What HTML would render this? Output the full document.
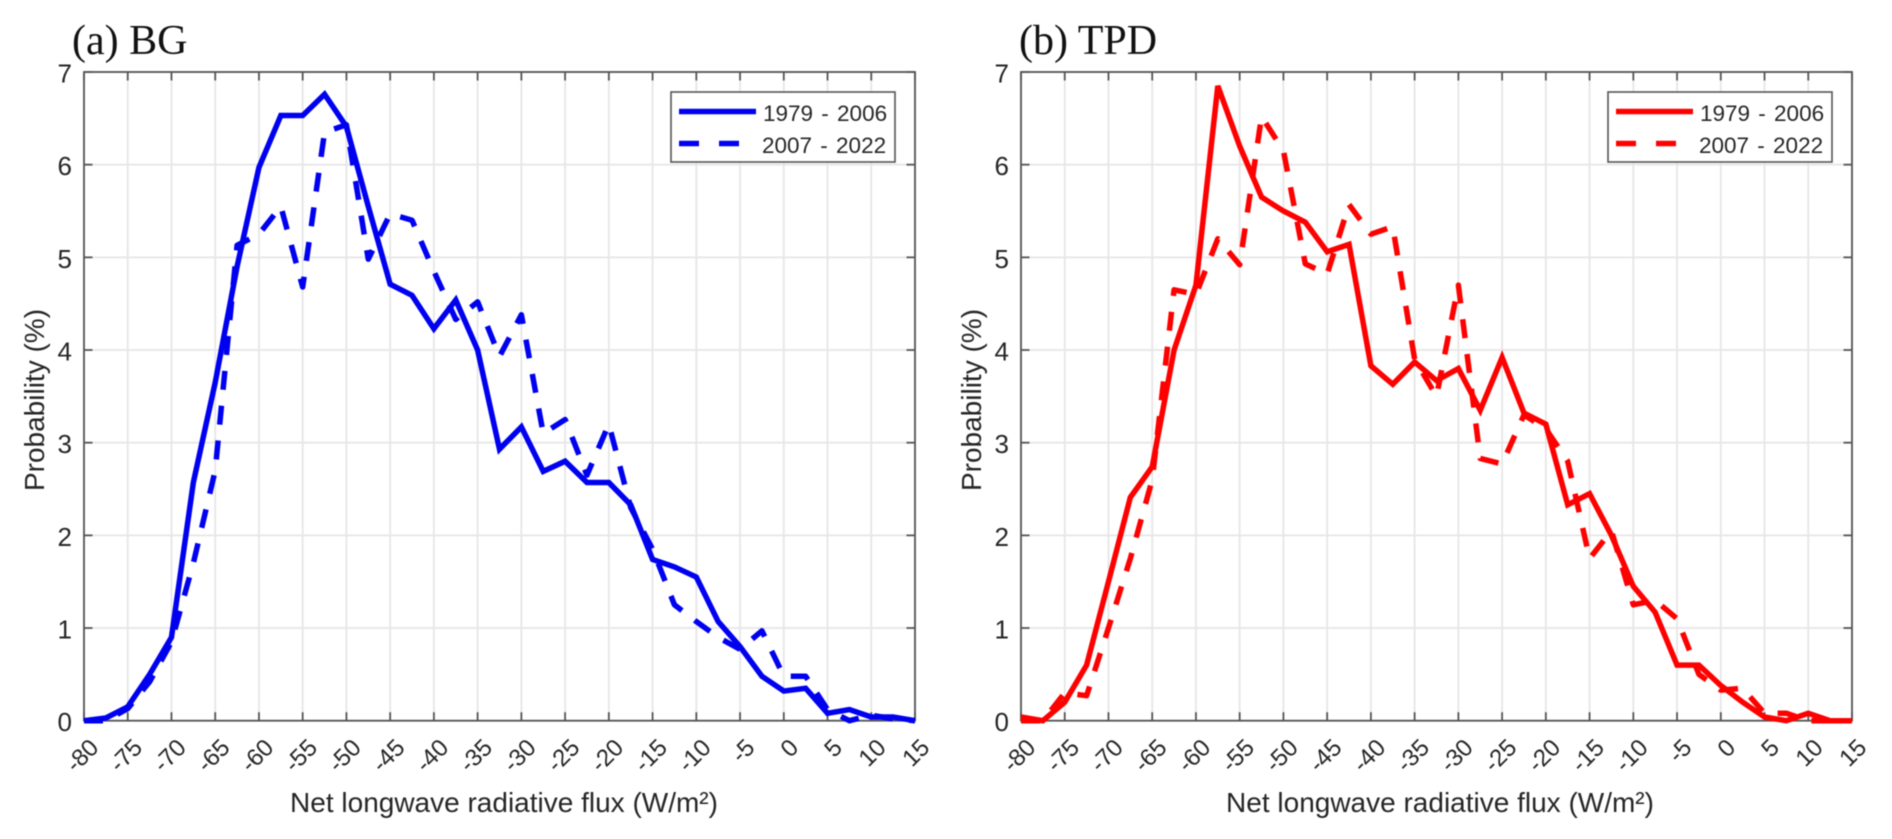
<!DOCTYPE html>
<html lang="en">
<head>
<meta charset="utf-8">
<title>Net longwave radiative flux probability</title>
<style>
html,body{margin:0;padding:0;background:#fff;width:1892px;height:839px;overflow:hidden}
svg{display:block;filter:blur(0.55px)}
text{font-family:"Liberation Sans",sans-serif;fill:#262626}
.title{font-family:"Liberation Serif",serif;font-size:42px;fill:#111}
.ylab,.xlab{font-size:28px}
</style>
</head>
<body>
<svg id="chart" width="1892" height="839" viewBox="0 0 1892 839" xmlns="http://www.w3.org/2000/svg">
  <g id="panel-a">
    <text class="title" x="72" y="54">(a) BG</text>
    <text class="ylab" transform="translate(44,400) rotate(-90)" text-anchor="middle">Probability (%)</text>
    <text class="xlab" x="504" y="812" text-anchor="middle">Net longwave radiative flux (W/m²)</text>
  </g>
  <g id="panel-b">
    <text class="title" x="1019" y="54">(b) TPD</text>
    <text class="ylab" transform="translate(981,400) rotate(-90)" text-anchor="middle">Probability (%)</text>
    <text class="xlab" x="1440" y="812" text-anchor="middle">Net longwave radiative flux (W/m²)</text>
  </g>
</svg>
<script>
// Chart data
const binCenters = [-80,-77.5,-75,-72.5,-70,-67.5,-65,-62.5,-60,-57.5,-55,-52.5,-50,-47.5,-45,-42.5,-40,-37.5,-35,-32.5,-30,-27.5,-25,-22.5,-20,-17.5,-15,-12.5,-10,-7.5,-5,-2.5,0,2.5,5,7.5,10,12.5,15];
const xTicks = [-80,-75,-70,-65,-60,-55,-50,-45,-40,-35,-30,-25,-20,-15,-10,-5,0,5,10,15];
const yTicks = [0,1,2,3,4,5,6,7];
const seriesLabels = ['1979 - 2006','2007 - 2022'];
const bgEarly = [0,0.03,0.15,0.5,0.9,2.57,3.65,4.9,5.97,6.53,6.53,6.76,6.41,5.55,4.71,4.59,4.23,4.54,4.0,2.93,3.17,2.69,2.8,2.57,2.57,2.33,1.74,1.66,1.55,1.07,0.8,0.48,0.32,0.35,0.08,0.12,0.04,0.04,0];
const bgLate = [0,0,0.13,0.42,0.85,1.7,2.7,5.13,5.25,5.55,4.68,6.35,6.43,4.98,5.47,5.4,4.85,4.33,4.52,3.93,4.38,3.1,3.25,2.65,3.2,2.3,1.85,1.25,1.07,0.9,0.77,0.97,0.48,0.48,0.12,0,0.06,0.02,0];
const tpdEarly = [0.04,0,0.2,0.6,1.5,2.41,2.74,4.0,4.7,6.85,6.2,5.65,5.5,5.38,5.06,5.14,3.83,3.63,3.87,3.67,3.8,3.35,3.92,3.32,3.2,2.33,2.45,2.0,1.45,1.17,0.6,0.6,0.38,0.2,0.04,0,0.08,0,0];
const tpdLate = [0,0,0.3,0.27,1.0,1.75,2.6,4.65,4.6,5.2,4.92,6.52,6.15,4.93,4.82,5.57,5.25,5.33,3.9,3.5,4.7,2.83,2.77,3.3,3.15,2.8,1.75,2.05,1.25,1.3,1.1,0.5,0.33,0.35,0.08,0.08,0,0,0];

const NS = 'http://www.w3.org/2000/svg';
const plotTop = 72, plotBottom = 720.7, plotWidth = 831;
const xMin = -80, xMax = 15, yMin = 0, yMax = 7;

function mk(tag, attrs, parent) {
  const el = document.createElementNS(NS, tag);
  for (const k in attrs) el.setAttribute(k, attrs[k]);
  parent.appendChild(el);
  return el;
}

function linePath(xs, ys, xScale, yScale) {
  return xs.map((v, i) => (i ? 'L' : 'M') + xScale(v).toFixed(2) + ' ' + yScale(ys[i]).toFixed(2)).join(' ');
}

function drawPanel(group, plotLeft, color, earlyValues, lateValues) {
  const xScale = v => plotLeft + (v - xMin) / (xMax - xMin) * plotWidth;
  const yScale = v => plotBottom - (v - yMin) / (yMax - yMin) * (plotBottom - plotTop);
  const plotRight = plotLeft + plotWidth;

  xTicks.forEach(t => {
    const x = xScale(t);
    const grid = mk('line', {x1:x, x2:x, y1:plotTop, y2:plotBottom, stroke:'#e6e6e6', 'stroke-width':1.8}, group);
    
    
  });
  yTicks.forEach(t => {
    const y = yScale(t);
    const grid = mk('line', {x1:plotLeft, x2:plotRight, y1:y, y2:y, stroke:'#e6e6e6', 'stroke-width':1.8}, group);
    
    
  });

  xTicks.forEach(t => {
    const x = xScale(t);
    const bottomTick = mk('line', {x1:x, x2:x, y1:plotBottom, y2:plotBottom - 8.5, stroke:'#555', 'stroke-width':1.8}, group);
    
    
    const topTick = mk('line', {x1:x, x2:x, y1:plotTop, y2:plotTop + 8.5, stroke:'#555', 'stroke-width':1.8}, group);
    
    
    const label = mk('text', {'text-anchor':'end', 'font-size':24, transform:'translate(' + (x + 16) + ',749) rotate(-45)'}, group);
    label.textContent = t;
    
    
  });
  yTicks.forEach(t => {
    const y = yScale(t);
    const leftTick = mk('line', {x1:plotLeft, x2:plotLeft + 8.5, y1:y, y2:y, stroke:'#555', 'stroke-width':1.8}, group);
    
    
    const rightTick = mk('line', {x1:plotRight, x2:plotRight - 8.5, y1:y, y2:y, stroke:'#555', 'stroke-width':1.8}, group);
    
    
    const label = mk('text', {'text-anchor':'end', 'font-size':26, x:plotLeft - 12, y:y + 10.5}, group);
    label.textContent = t;
    
    
  });

  const frame = mk('rect', {x:plotLeft, y:plotTop, width:plotWidth, height:plotBottom - plotTop, fill:'none', stroke:'#555', 'stroke-width':1.8}, group);
  
  

  const late = mk('path', {d:linePath(binCenters, lateValues, xScale, yScale), fill:'none', stroke:color, 'stroke-width':5.5, 'stroke-dasharray':'19 16', 'stroke-linejoin':'round'}, group);
  
  

  const early = mk('path', {d:linePath(binCenters, earlyValues, xScale, yScale), fill:'none', stroke:color, 'stroke-width':5.5, 'stroke-linejoin':'miter'}, group);
  
  

  const legendLeft = plotLeft + 587;
  const legend = mk('g', {}, group);
  
  
  const box = mk('rect', {x:legendLeft, y:92, width:224, height:70, fill:'#fff', stroke:'#555', 'stroke-width':1.6}, legend);
  
  
  const keySolid = mk('line', {x1:legendLeft + 8, x2:legendLeft + 85, y1:111.5, y2:111.5, stroke:color, 'stroke-width':5.5}, legend);
  
  
  const keyDashed = mk('line', {x1:legendLeft + 8, x2:legendLeft + 68, y1:143.5, y2:143.5, stroke:color, 'stroke-width':5.5, 'stroke-dasharray':'20 20'}, legend);
  
  
  const entryOne = mk('text', {x:legendLeft + 92, y:121, 'font-size':22.5, 'word-spacing':'2'}, legend);
  entryOne.textContent = seriesLabels[0];
  
  
  const entryTwo = mk('text', {x:legendLeft + 91, y:153, 'font-size':22.5, 'word-spacing':'2'}, legend);
  entryTwo.textContent = seriesLabels[1];
  
  
}

drawPanel(document.getElementById('panel-a'), 84, '#0000f0', bgEarly, bgLate);
drawPanel(document.getElementById('panel-b'), 1021, '#ff0000', tpdEarly, tpdLate);
</script>
</body>
</html>
